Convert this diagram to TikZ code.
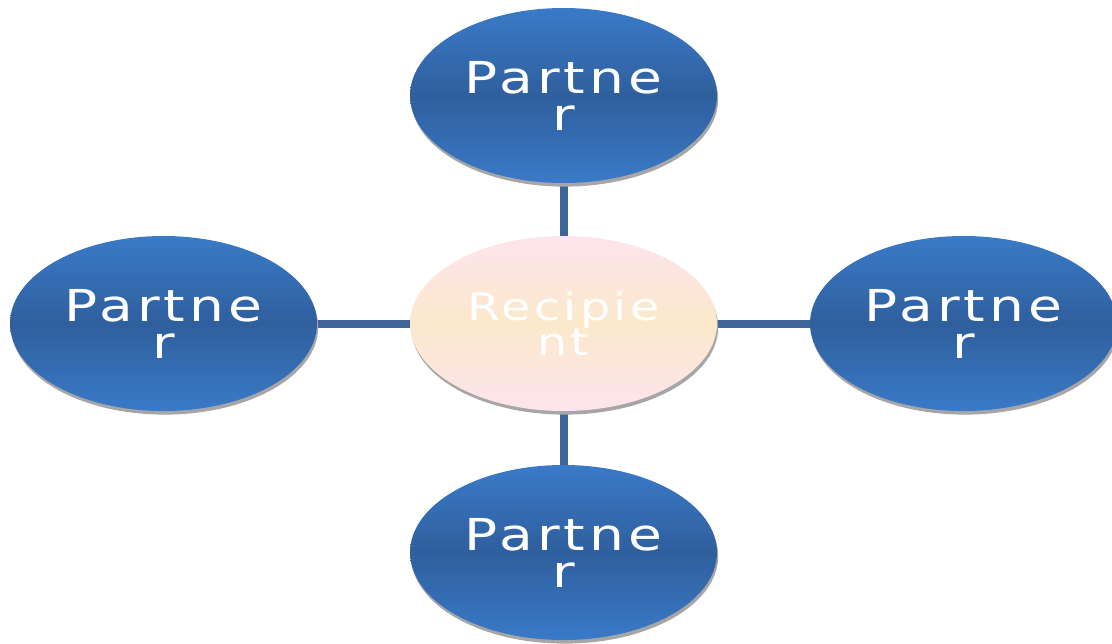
\documentclass[tikz,border=0pt]{standalone}
\usepackage{fontspec}
\newfontfamily\diagfont[FakeStretch=1.25,LetterSpace=9]{DejaVu Sans}
\usetikzlibrary{shapes.geometric,shadows,backgrounds}

\definecolor{blueedge}{HTML}{3A7AC8}
\definecolor{bluemid}{HTML}{2F5F9D}
\definecolor{pinkedge}{HTML}{FDE4EE}
\definecolor{creammid}{HTML}{FBE9CB}
\definecolor{linkcol}{HTML}{3F649A}
\definecolor{shadowcol}{HTML}{A6A6A6}

\tikzset{
  bubble/.style={ellipse, minimum width=153.5pt, minimum height=87.5pt, inner sep=0pt,
    align=center, text=white,
    font=\diagfont\fontsize{22}{18.5}\selectfont,
    drop shadow={shadow xshift=0.6pt, shadow yshift=-1.8pt, fill=shadowcol, opacity=1}},
  partner/.style={bubble, top color=blueedge, bottom color=blueedge, middle color=bluemid},
  recipient/.style={bubble, top color=pinkedge, bottom color=pinkedge, middle color=creammid,
    font=\diagfont\fontsize{19}{17.5}\selectfont},
  link/.style={draw=linkcol, line width=4pt}
}

\begin{document}
\begin{tikzpicture}[x=0.5pt, y=-0.5pt]
  \useasboundingbox (0,0) rectangle (1112,643);
  \node[recipient] (rec) at (563.5,323.5) {Recipie\\nt};
  \node[partner] (ptop) at (563.5,95.5) {Partne\\r};
  \node[partner] (pleft) at (163.5,323.5) {Partne\\r};
  \node[partner] (pright) at (963.5,323.5) {Partne\\r};
  \node[partner] (pbottom) at (563.5,552.5) {Partne\\r};

  \begin{scope}[on background layer]
    \draw[link] (rec) -- (ptop);
    \draw[link] (rec) -- (pleft);
    \draw[link] (rec) -- (pright);
    \draw[link] (rec) -- (pbottom);
  \end{scope}
\end{tikzpicture}
\end{document}
